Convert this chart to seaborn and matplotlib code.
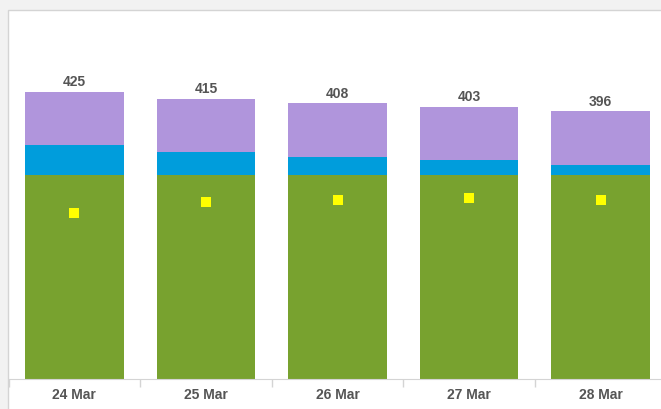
import numpy as np
import pandas as pd
import seaborn as sns
import matplotlib.pyplot as plt
from matplotlib.patches import Rectangle

# values
dates = ['24 Mar', '25 Mar', '26 Mar', '27 Mar', '28 Mar']
green = [302, 302, 302, 302, 302]
blue = [44, 34, 27, 22, 15]
purple = [79, 79, 79, 79, 79]
yellow = [245, 262, 264, 267, 264]

sns.set_style('white')
plt.rcParams['font.family'] = ['Liberation Sans', 'DejaVu Sans']

df = pd.DataFrame({'date': dates, 'green': green, 'blue': blue,
                   'purple': purple, 'yellow': yellow})
#stacking by drawing the cumulative heights from the tallest down
df['green_blue'] = df['green'] + df['blue']
df['total'] = df['green_blue'] + df['purple']

fig = plt.figure(figsize=(6.61, 4.09), dpi=100, facecolor='#f2f2f2')
#white panel with a light grey border on the left and top (kept behind the axes)
fig.patches.append(Rectangle((8 / 661, -0.1), 1.2, (409 - 10) / 409 + 0.1,
                             transform=fig.transFigure, facecolor='white',
                             edgecolor='#d4d4d4', linewidth=1, zorder=-10))
ax = fig.add_axes([8.5 / 661, 30.5 / 409, 658 / 661, 367.5 / 409])
ax.set_facecolor('none')
ax.set_zorder(5)

sns.barplot(data=df, x='date', y='total', color='#b095dc', width=0.75,
            saturation=1, linewidth=0, ax=ax)
sns.barplot(data=df, x='date', y='green_blue', color='#009ddc', width=0.75,
            saturation=1, linewidth=0, ax=ax)
sns.barplot(data=df, x='date', y='green', color='#78a22f', width=0.75,
            saturation=1, linewidth=0, ax=ax)
sns.stripplot(data=df, x='date', y='yellow', jitter=False, marker='s',
              size=7.2, color='#ffff00', linewidth=0, ax=ax, zorder=5)

ax.bar_label(ax.containers[0], fmt='%d', padding=2, fontsize=10,
             fontweight='bold', color='#555555')

ax.set_xlim(-0.5, 4.5)
ax.set_ylim(0, 545)
ax.set(xlabel='', ylabel='')
ax.set_yticks([])
sns.despine(ax=ax, left=True)
ax.spines['bottom'].set_color('#d4d4d4')
#small grey marks between the categories
ax.set_xticks(np.arange(-0.5, 5, 1), minor=True)
ax.tick_params(axis='x', which='minor', bottom=True, length=6,
               color='#d4d4d4', width=1)
ax.tick_params(axis='x', which='major', length=0, pad=7, labelsize=10,
               labelcolor='#555555')
for t in ax.get_xticklabels():
    t.set_fontweight('bold')

fig.savefig('out.png', dpi=100, facecolor=fig.get_facecolor())
